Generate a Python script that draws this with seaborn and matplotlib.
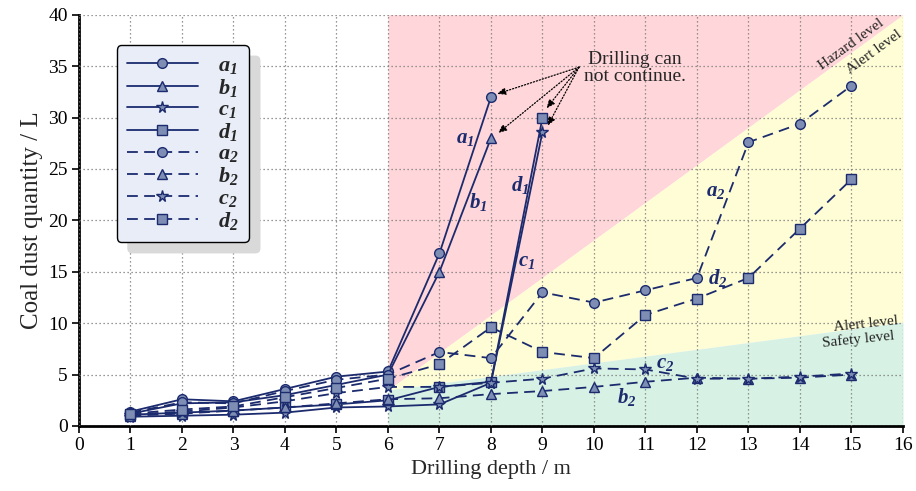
import numpy as np
import pandas as pd
import matplotlib
matplotlib.use("Agg")
import matplotlib.pyplot as plt
import seaborn as sns

# ---------------- data ----------------
depth_1 = [1, 2, 3, 4, 5, 6, 7, 8]
a1 = [1.4, 2.6, 2.4, 3.6, 4.8, 5.3, 16.8, 32.0]
b1 = [1.2, 2.2, 2.3, 3.0, 4.0, 5.0, 15.0, 28.0]
depth_c1d1 = [1, 2, 3, 4, 5, 6, 7, 8, 9]
c1 = [0.9, 1.0, 1.1, 1.3, 1.8, 1.9, 2.1, 4.2, 28.6]
d1 = [1.1, 1.3, 1.5, 1.8, 2.1, 2.5, 3.8, 4.3, 30.0]
depth_2 = [1, 2, 3, 4, 5, 6, 7, 8, 9, 10, 11, 12, 13, 14, 15]
a2 = [1.3, 2.3, 2.2, 3.4, 4.5, 5.0, 7.2, 6.6, 13.0, 12.0, 13.2, 14.4, 27.6, 29.4, 33.1]
b2 = [1.0, 1.2, 1.5, 1.8, 2.2, 2.6, 2.7, 3.1, 3.4, 3.8, 4.3, 4.7, 4.6, 4.7, 5.0]
c2 = [1.1, 1.4, 1.8, 2.4, 3.2, 3.8, 3.8, 4.2, 4.6, 5.6, 5.5, 4.6, 4.6, 4.8, 5.1]
d2 = [1.2, 1.6, 1.9, 2.8, 3.7, 4.6, 6.0, 9.6, 7.2, 6.6, 10.8, 12.4, 14.4, 19.2, 24.0]

# level boundaries (depth, quantity)
zone_x = [6, 16]
hazard_line = [3.5, 40.0]
safety_line = [3.5, 10.1]

series_names = ["a1", "b1", "c1", "d1", "a2", "b2", "c2", "d2"]
series_labels = [r"$\mathbf{a}_{\mathbf{1}}$", r"$\mathbf{b}_{\mathbf{1}}$",
                 r"$\mathbf{c}_{\mathbf{1}}$", r"$\mathbf{d}_{\mathbf{1}}$",
                 r"$\mathbf{a}_{\mathbf{2}}$", r"$\mathbf{b}_{\mathbf{2}}$",
                 r"$\mathbf{c}_{\mathbf{2}}$", r"$\mathbf{d}_{\mathbf{2}}$"]
series_x = [depth_1, depth_1, depth_c1d1, depth_c1d1, depth_2, depth_2, depth_2, depth_2]
series_y = [a1, b1, c1, d1, a2, b2, c2, d2]
x_ticks = list(range(0, 17))
y_ticks = [0, 5, 10, 15, 20, 25, 30, 35, 40]

# ---------------- style ----------------
sns.set_style("ticks")
plt.rcParams["font.family"] = ["Liberation Serif", "DejaVu Serif"]
plt.rcParams["mathtext.fontset"] = "custom"
plt.rcParams["mathtext.rm"] = "Liberation Serif"
plt.rcParams["mathtext.it"] = "Liberation Serif:italic"
plt.rcParams["mathtext.bf"] = "Liberation Serif:bold:italic"

line_col = "#1b2b6e"
face_col = "#7d8db3"
markers = {"a": "o", "b": "^", "c": "*", "d": "s"}
msizes = {"a": 7, "b": 7.5, "c": 8.5, "d": 7}

fig = plt.figure(figsize=(9.16, 4.91), dpi=100)
ax = fig.add_axes([0.0862, 0.1324, 0.8996, 0.8376])

# zones
zx = np.array(zone_x, dtype=float)
ax.fill_between(zx, hazard_line, [40, 40], color="#ffd6d9", lw=0, zorder=0)
ax.fill_between(zx, safety_line, hazard_line, color="#fffdd5", lw=0, zorder=0)
ax.fill_between(zx, [0, 0], safety_line, color="#d7f1e4", lw=0, zorder=0)

for name, lab, xs, ys in zip(series_names, series_labels, series_x, series_y):
    df = pd.DataFrame({"depth": xs, "qty": ys})
    dashed = name.endswith("2")
    sns.lineplot(data=df, x="depth", y="qty", ax=ax, color=line_col,
                 marker=markers[name[0]], markersize=msizes[name[0]],
                 markerfacecolor=face_col, markeredgecolor=line_col,
                 markeredgewidth=1.0, linewidth=1.3,
                 linestyle=(0, (6, 3.5)) if dashed else "-",
                 label=lab, zorder=3)

ax.set_xlim(0, 16)
ax.set_ylim(0, 40)
ax.set_xticks(x_ticks)
ax.set_yticks(y_ticks)
ax.grid(True, linestyle=(0, (1, 2.2)), color="#777777", linewidth=0.9, zorder=1)
ax.set_axisbelow(False)
for s in ["top", "right"]:
    ax.spines[s].set_visible(False)
for s in ["left", "bottom"]:
    ax.spines[s].set_linewidth(2.0)
    ax.spines[s].set_color("black")
ax.tick_params(axis="both", direction="out", length=5, width=1.2, labelsize=14,
               colors="black", pad=3)
ax.set_xlabel("Drilling depth / m", fontsize=16, labelpad=4)
ax.set_ylabel("Coal dust quantity / L", fontsize=18, labelpad=4)

# legend
leg = ax.legend(loc="upper left", bbox_to_anchor=(0.046, 0.926), borderaxespad=0,
                fontsize=16, handlelength=3.2, labelspacing=0.04, handletextpad=0.9,
                borderpad=0.45, fancybox=True, framealpha=1,
                shadow={"ox": 8, "oy": -8, "color": "#d9d9d9", "alpha": 1})
leg.get_frame().set_facecolor("#e8edf7")
leg.get_frame().set_edgecolor("black")
leg.get_frame().set_linewidth(1.0)
leg.set_zorder(10)

# series labels on plot
lab_kw = dict(fontsize=15, color=line_col, ha="center", va="center", zorder=6)
ax.text(7.5, 28.0, series_labels[0], **lab_kw)
ax.text(7.75, 21.8, series_labels[1], **lab_kw)
ax.text(8.7, 16.0, series_labels[2], **lab_kw)
ax.text(8.56, 23.4, series_labels[3], **lab_kw)
ax.text(12.37, 22.8, series_labels[4], **lab_kw)
ax.text(10.64, 2.8, series_labels[5], **lab_kw)
ax.text(11.38, 6.1, series_labels[6], **lab_kw)
ax.text(12.4, 14.4, series_labels[7], **lab_kw)

# annotation
ax.text(10.8, 34.8, "Drilling can\nnot continue.", fontsize=14, ha="center",
        va="center", linespacing=1.0, zorder=7)
src = (9.71, 34.9)
for tgt in [(8.12, 32.3), (8.14, 28.5), (9.08, 30.9), (9.1, 29.2)]:
    ax.annotate("", xy=tgt, xytext=src, zorder=7,
                arrowprops=dict(arrowstyle="-|>,head_length=0.5,head_width=0.22",
                                linestyle=(0, (1, 1.5)), color="black", lw=0.9,
                                shrinkA=0, shrinkB=0))

# level texts
ax.text(14.99, 37.1, "Hazard level", fontsize=11, rotation=36, ha="center",
        va="center", rotation_mode="anchor", zorder=6)
ax.text(15.45, 36.4, "Alert level", fontsize=11, rotation=36, ha="center",
        va="center", rotation_mode="anchor", zorder=6)
ax.text(15.28, 9.9, "Alert level", fontsize=11, rotation=6, ha="center",
        va="center", rotation_mode="anchor", zorder=6)
ax.text(15.13, 8.4, "Safety level", fontsize=11, rotation=6, ha="center",
        va="center", rotation_mode="anchor", zorder=6)

fig.savefig("out.png", dpi=100)
